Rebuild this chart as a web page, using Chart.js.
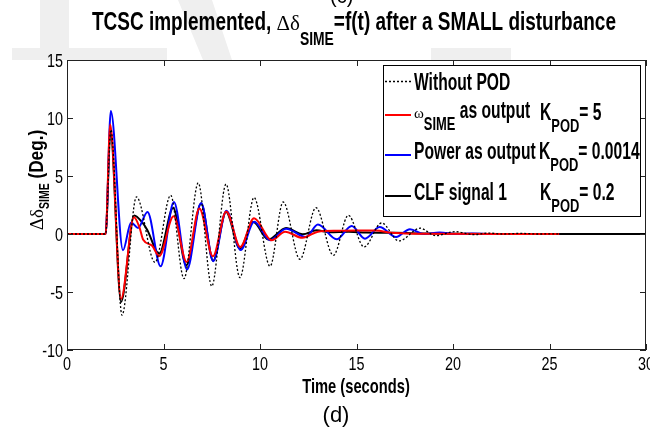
<!DOCTYPE html>
<html>
<head>
<meta charset="utf-8">
<script src="https://cdn.jsdelivr.net/npm/chart.js@4"></script>
<style>
  body { margin: 0; background: #fff; }
  canvas { display: block; }
</style>
</head>
<body>
<canvas id="myChart" width="650" height="430"></canvas>
<script>
// values (time in s, angle in deg)
const tWithout = [0, 2, 2.27, 2.85, 3.6, 4.56, 5.37, 6.06, 6.8, 7.5, 8.24, 8.96, 9.69, 10.52, 11.2, 12.07, 12.9, 13.8, 14.58, 15.39, 16.3, 17.2, 18.3, 19.1, 20.1, 21.1, 21.8, 22.6, 23.5, 24.4, 25.5];
const vWithout = [0, 0, 9.0, -7.0, 3.2, -2.45, 3.34, -3.85, 4.4, -4.5, 4.3, -3.76, 3.15, -2.78, 2.76, -2.18, 2.27, -1.84, 1.61, -1.12, 0.95, -0.6, 0.5, -0.15, 0.2, -0.05, 0.08, 0.0, 0.05, 0.0, 0.02];

const tOmega = [0, 2, 2.24, 2.8, 3.47, 3.75, 3.95, 4.4, 4.78, 5.52, 6.2, 6.86, 7.56, 8.25, 8.98, 9.69, 10.6, 11.3, 12.2, 13.0, 14.0, 15.0, 16.0, 16.8, 17.5, 19.0, 25.5];
const vOmega = [0, 0, 9.45, -5.6, 1.45, 0.6, -0.5, -1.0, -1.9, 1.52, -2.41, 2.2, -1.92, 1.95, -1.12, 1.35, -0.54, 0.2, -0.33, 0.2, 0.28, 0.3, 0.3, 0.1, 0.05, 0.02, 0];

const tPower = [0, 2, 2.27, 2.9, 3.32, 3.68, 4.17, 4.85, 5.54, 6.22, 6.95, 7.58, 8.26, 9.0, 9.7, 10.52, 11.35, 12.38, 13.0, 13.97, 14.75, 15.44, 16.2, 17.05, 17.77, 18.5, 19.3, 20.2, 21.0, 22.0, 25.5];
const vPower = [0, 0, 10.6, -1.4, 1.0, 0.52, 1.9, -2.78, 2.76, -3.05, 2.67, -2.34, 2.0, -1.38, 1.05, -0.54, 0.46, -0.26, 0.81, -0.46, 0.69, -0.4, 0.6, -0.26, 0.42, 0.0, 0.12, 0.0, 0.05, 0, 0];

const tClf = [0, 2, 2.25, 2.8, 3.48, 3.9, 4.16, 4.78, 5.5, 6.18, 6.95, 7.57, 8.24, 8.96, 9.65, 10.43, 11.35, 12.21, 12.93, 13.6, 14.6, 15.5, 17.0, 18.5, 20.0, 22.0, 30];
const vClf = [0, 0, 8.8, -5.86, 1.6, 1.0, 0.35, -1.7, 2.25, -2.7, 2.62, -2.3, 1.9, -1.26, 1.03, -0.48, 0.52, -0.03, 0.32, 0.15, 0.2, 0.12, 0.1, 0.05, 0.02, 0, 0];

const xTicks = [0, 5, 10, 15, 20, 25, 30];
const yTicks = [-10, -5, 0, 5, 10, 15];

const SANS = "'Liberation Sans', Arial, sans-serif";
const SERIF = "'Liberation Serif', 'DejaVu Serif', serif";
const NARROW = 0.68; // the figure uses a condensed Helvetica

function pts(ts, vs) {
    return ts.map((t, i) => ({ x: t, y: vs[i] }));
}

// draw a run of text pieces; sx < 1 squeezes a piece horizontally
function rich(ctx, x, y, parts) {
    for (const p of parts) {
        const sx = p.sx || NARROW;
        ctx.font = p.f;
        ctx.save();
        ctx.translate(x, y + (p.dy || 0));
        ctx.scale(sx, 1);
        ctx.fillText(p.t, 0, 0);
        ctx.restore();
        x += ctx.measureText(p.t).width * sx;
    }
    return x;
}
function richWidth(ctx, parts) {
    let w = 0;
    for (const p of parts) {
        ctx.font = p.f;
        w += ctx.measureText(p.t).width * (p.sx || NARROW);
    }
    return w;
}

const bold = s => "bold " + s + "px " + SANS;
const reg = s => s + "px " + SANS;
const sym = s => s + "px " + SERIF;

const decorations = {
    id: "decorations",
    beforeDraw(chart) {
        const ctx = chart.ctx;
        ctx.save();
        // faint watermark of the source page
        ctx.fillStyle = "#efefef";
        ctx.fillRect(40, 0, 29, 60);
        ctx.fillRect(12, 48, 155, 12);
        ctx.beginPath();
        ctx.moveTo(178, 0);
        ctx.lineTo(212, 0);
        ctx.lineTo(232, 60);
        ctx.lineTo(203, 60);
        ctx.closePath();
        ctx.fill();
        ctx.fillRect(431, 48, 80, 12);
        const a = chart.chartArea;
        ctx.fillStyle = "#fff";
        ctx.fillRect(a.left, a.top, a.right - a.left, a.bottom - a.top);
        ctx.restore();
    },
    afterDraw(chart) {
        const ctx = chart.ctx;
        const a = chart.chartArea;
        const xs = chart.scales.x, ys = chart.scales.y;
        ctx.save();

        // box + inward ticks
        ctx.strokeStyle = "#222";
        ctx.lineWidth = 1;
        ctx.strokeRect(a.left + 0.5, a.top + 0.5, a.right - a.left - 1, a.bottom - a.top - 1);
        ctx.beginPath();
        xTicks.forEach(v => {
            const px = Math.round(xs.getPixelForValue(v)) + 0.5;
            ctx.moveTo(px, a.bottom); ctx.lineTo(px, a.bottom - 6);
            ctx.moveTo(px, a.top); ctx.lineTo(px, a.top + 6);
        });
        yTicks.forEach(v => {
            const py = Math.round(ys.getPixelForValue(v)) + 0.5;
            ctx.moveTo(a.left, py); ctx.lineTo(a.left + 6, py);
            ctx.moveTo(a.right, py); ctx.lineTo(a.right - 6, py);
        });
        ctx.stroke();

        ctx.fillStyle = "#000";
        ctx.textBaseline = "alphabetic";

        // tick labels
        xTicks.forEach(v => {
            const p = [{ t: String(v), f: reg(18), sx: 0.8 }];
            rich(ctx, xs.getPixelForValue(v) - richWidth(ctx, p) / 2, a.bottom + 20, p);
        });
        yTicks.forEach(v => {
            const p = [{ t: String(v), f: reg(18), sx: 0.8 }];
            rich(ctx, a.left - 4 - richWidth(ctx, p), ys.getPixelForValue(v) + 7, p);
        });

        // title
        const title = [
            { t: "TCSC implemented, ", f: bold(26), sx: 0.73 },
            { t: "\u0394\u03b4", f: sym(21), sx: 1 },
            { t: "SIME", f: bold(19), dy: 15, sx: 0.73 },
            { t: "=f(t) after a SMALL disturbance", f: bold(26), sx: 0.73 }
        ];
        rich(ctx, 92, 30, title);
        // cut-off panel letter of the previous figure
        rich(ctx, 330, 3, [{ t: "(c)", f: reg(20), sx: 1 }]);

        // y axis title
        ctx.save();
        ctx.translate(43, 180);
        ctx.rotate(-Math.PI / 2);
        const ylab = [
            { t: "\u0394\u03b4", f: sym(19), sx: 1 },
            { t: "SIME", f: bold(14), dy: 6, sx: 0.75 },
            { t: " (Deg.)", f: bold(21), sx: 0.82 }
        ];
        rich(ctx, -richWidth(ctx, ylab) / 2, 0, ylab);
        ctx.restore();

        // x axis title and panel letter
        const xl = [{ t: "Time (seconds)", f: bold(21), sx: 0.7 }];
        rich(ctx, 356 - richWidth(ctx, xl) / 2, 393, xl);
        const pl = [{ t: "(d)", f: reg(22), sx: 1 }];
        rich(ctx, 336 - richWidth(ctx, pl) / 2, 422, pl);

        // legend
        ctx.fillStyle = "#fff";
        ctx.fillRect(383, 65, 258, 152);
        ctx.strokeStyle = "#000";
        ctx.strokeRect(383.5, 65.5, 257, 151);
        const rows = [
            { y: 81.5, c: "#000", dash: [2, 2], w: 1.3 },
            { y: 115, c: "#ff0000", dash: [], w: 2 },
            { y: 155, c: "#0000ff", dash: [], w: 2 },
            { y: 196, c: "#000", dash: [], w: 2 }
        ];
        rows.forEach(r => {
            ctx.beginPath();
            ctx.setLineDash(r.dash);
            ctx.lineWidth = r.w;
            ctx.strokeStyle = r.c;
            ctx.moveTo(385, r.y); ctx.lineTo(411, r.y);
            ctx.stroke();
        });
        ctx.setLineDash([]);
        ctx.fillStyle = "#000";
        const kPod = (x, y, val) => rich(ctx, x, y, [
            { t: "K", f: bold(23) },
            { t: "POD", f: bold(19), dy: 12 },
            { t: val, f: bold(23) }
        ]);
        rich(ctx, 414, 90, [{ t: "Without POD", f: bold(23) }]);
        rich(ctx, 414, 118, [
            { t: "\u03c9", f: sym(15), sx: 1 },
            { t: "SIME", f: bold(19), dy: 12 },
            { t: " as output", f: bold(23) }
        ]);
        kPod(540, 120, "= 5");
        rich(ctx, 414, 159, [{ t: "Power as output", f: bold(23) }]);
        kPod(539, 159, "= 0.0014");
        rich(ctx, 414, 200, [{ t: "CLF signal 1", f: bold(23) }]);
        kPod(540, 200, "= 0.2");
        ctx.restore();
    }
};

const ctx = document.getElementById("myChart").getContext("2d");
new Chart(ctx, {
    type: "line",
    data: {
        datasets: [
            {
                label: "Without POD",
                data: pts(tWithout, vWithout),
                borderColor: "#000",
                borderWidth: 1.3,
                borderDash: [2, 2]
            },
            {
                label: "\u03c9SIME as output KPOD= 5",
                data: pts(tOmega, vOmega),
                borderColor: "#ff0000",
                borderWidth: 2
            },
            {
                label: "Power as output KPOD= 0.0014",
                data: pts(tPower, vPower),
                borderColor: "#0000ff",
                borderWidth: 2
            },
            {
                label: "CLF signal 1 KPOD= 0.2",
                data: pts(tClf, vClf),
                borderColor: "#000",
                borderWidth: 2
            }
        ]
    },
    options: {
        responsive: false,
        animation: false,
        devicePixelRatio: 1,
        elements: {
            point: { radius: 0 },
            line: { cubicInterpolationMode: "monotone", fill: false }
        },
        layout: { padding: { top: 60, right: 4, left: 0, bottom: 0 } },
        scales: {
            x: {
                type: "linear",
                min: 0,
                max: 30,
                afterFit: s => { s.height = 80; },
                grid: { display: false, drawTicks: false },
                border: { display: false },
                ticks: { display: false, stepSize: 5 }
            },
            y: {
                type: "linear",
                min: -10,
                max: 15,
                afterFit: s => { s.width = 67; },
                grid: { display: false, drawTicks: false },
                border: { display: false },
                ticks: { display: false, stepSize: 5 }
            }
        },
        plugins: {
            legend: { display: false },
            title: { display: false },
            tooltip: { enabled: false }
        }
    },
    plugins: [decorations]
});
</script>
</body>
</html>
